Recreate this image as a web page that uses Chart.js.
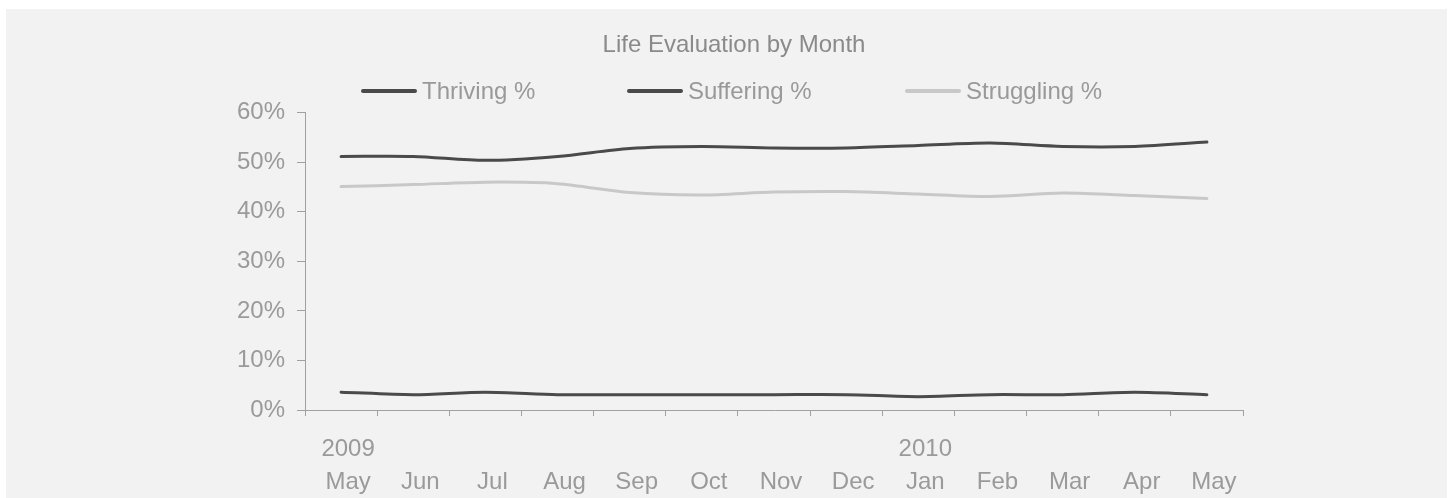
<!DOCTYPE html>
<html>
<head>
<meta charset="utf-8">
<script src="https://cdn.jsdelivr.net/npm/chart.js@4.4.1/dist/chart.umd.min.js"></script>
<style>
html, body { margin: 0; padding: 0; background: #fff; }
#wrap { position: absolute; left: 6px; top: 9px; width: 1441px; height: 489px; background: #f2f2f2; }
#legend { position: absolute; left: 0; top: 0; width: 100%; height: 0; font-family: "Liberation Sans", Arial, sans-serif; font-size: 24px; color: #999; }
.item { position: absolute; top: 70px; height: 24px; display: flex; align-items: center; white-space: nowrap; }
.swatch { width: 56px; height: 4px; border-radius: 2px; margin-right: 5px; }
</style>
</head>
<body>
<div id="wrap">
  <canvas id="chart"></canvas>
  <div id="legend"></div>
</div>
<script>
var monthLabels = ['May', 'Jun', 'Jul', 'Aug', 'Sep', 'Oct', 'Nov', 'Dec', 'Jan', 'Feb', 'Mar', 'Apr', 'May'];
var yearLabels = ['2009', '', '', '', '', '', '', '', '2010', '', '', '', ''];

var thriving   = [51.2, 51.2, 50.4, 51.2, 52.8, 53.2, 52.9, 52.9, 53.4, 53.9, 53.2, 53.2, 54.1];
var suffering  = [3.6, 3.1, 3.6, 3.1, 3.1, 3.1, 3.1, 3.1, 2.7, 3.1, 3.1, 3.6, 3.1];
var struggling = [45.1, 45.5, 46.0, 45.7, 43.9, 43.4, 44.0, 44.1, 43.6, 43.1, 43.8, 43.3, 42.7];

var seriesNames = ['Thriving %', 'Suffering %', 'Struggling %'];
var seriesColors = ['#4a4a4a', '#4a4a4a', '#c8c8c8'];
var legendLeft = [355, 621, 899];

var textColor = '#9a9a9a';
var axisColor = '#a0a0a0';
var fontFamily = '"Liberation Sans", Arial, sans-serif';

// html legend, spaced like the original
var legendDiv = document.getElementById('legend');
seriesNames.forEach(function(name, i) {
    var item = document.createElement('div');
    item.className = 'item';
    item.style.left = legendLeft[i] + 'px';
    var sw = document.createElement('span');
    sw.className = 'swatch';
    sw.style.background = seriesColors[i];
    var txt = document.createElement('span');
    txt.textContent = name;
    item.appendChild(sw);
    item.appendChild(txt);
    legendDiv.appendChild(item);
});

function makeSet(label, data, color) {
    return {
        label: label,
        data: data,
        borderColor: color,
        backgroundColor: color,
        borderWidth: 3,
        borderCapStyle: 'round',
        pointRadius: 0,
        tension: 0.3,
        fill: false
    };
}

new Chart(document.getElementById('chart').getContext('2d'), {
    type: 'line',
    data: {
        labels: monthLabels,
        datasets: [
            makeSet(seriesNames[0], thriving, seriesColors[0]),
            makeSet(seriesNames[1], suffering, seriesColors[1]),
            makeSet(seriesNames[2], struggling, seriesColors[2])
        ]
    },
    options: {
        responsive: true,
        maintainAspectRatio: false,
        animation: false,
        layout: { padding: { left: 219, right: 204, top: 0, bottom: -18 } },
        plugins: {
            legend: { display: false },
            tooltip: { enabled: false },
            title: {
                display: true,
                text: 'Life Evaluation by Month',
                color: '#8a8a8a',
                font: { family: fontFamily, size: 24, weight: 'normal' },
                padding: { top: 22, bottom: 53 }
            }
        },
        scales: {
            x: {
                offset: true,
                grid: { offset: true, drawOnChartArea: false, tickLength: 6, color: axisColor },
                border: { color: axisColor },
                ticks: {
                    font: { family: fontFamily, size: 24, lineHeight: 1.375 },
                    color: textColor,
                    padding: 17,
                    labelOffset: 7,
                    autoSkip: false,
                    maxRotation: 0,
                    // year on the first line, month below
                    callback: function(v, i) { return [yearLabels[i], monthLabels[i]]; }
                }
            },
            y: {
                min: 0,
                max: 60,
                grid: { drawOnChartArea: false, tickLength: 8, color: axisColor },
                border: { color: axisColor },
                ticks: {
                    stepSize: 10,
                    font: { family: fontFamily, size: 24 },
                    color: textColor,
                    padding: 12,
                    callback: function(v) { return v + '%'; }
                },
                afterFit: function(scale) { scale.width = 80; }
            }
        }
    }
});
</script>
</body>
</html>
